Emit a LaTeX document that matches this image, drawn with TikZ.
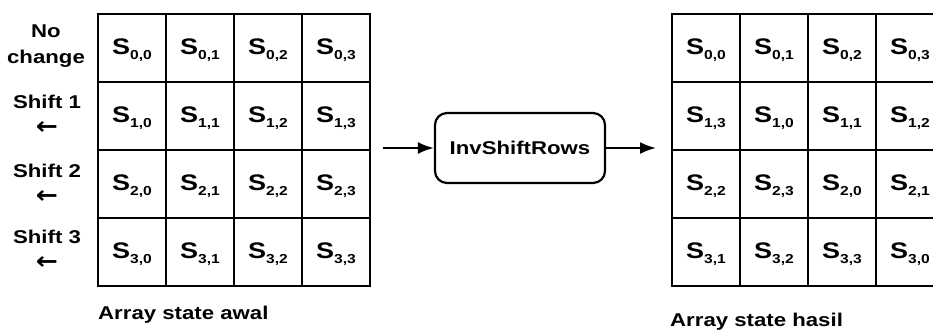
\documentclass[tikz,border=0pt]{standalone}
\usepackage{fontspec}
\setmainfont[FakeStretch=1.2]{Liberation Sans}
\newfontfamily\arrowfont[FakeStretch=1.1]{DejaVu Sans}
\usetikzlibrary{arrows.meta}

% state element S with a two-index subscript
\newcommand{\stateS}[2]{S\raisebox{-5.5pt}{\fontsize{13}{13}\selectfont #1,#2}}
% left-pointing shift arrow
\newcommand{\shiftleft}{{\arrowfont\bfseries\fontsize{24}{24}\selectfont ←}}

\begin{document}
\begin{tikzpicture}[x=1pt,y=-1pt,
  gridline/.style={line width=2.4pt, line cap=rect},
  cell/.style={font=\fontsize{22.5}{22.5}\selectfont\bfseries, inner sep=0pt},
  rowlabel/.style={font=\fontsize{18.5}{26}\selectfont\bfseries, align=center, inner sep=0pt},
  caption/.style={font=\fontsize{18.5}{18.5}\selectfont\bfseries, anchor=base west, inner sep=0pt},
  stepbox/.style={draw, line width=2.2pt, rounded corners=12pt, minimum width=170pt,
                  minimum height=70pt, inner sep=0pt, font=\fontsize{18.5}{18.5}\selectfont\bfseries},
  flow/.style={line width=2.2pt, -{Latex[length=16pt,width=12pt]}}]

\useasboundingbox (0,0) rectangle (933,333);

% ---- input state array ----
\foreach \i in {0,...,4}{
  \draw[gridline] (98+68*\i,14) -- (98+68*\i,286);
  \draw[gridline] (98,14+68*\i) -- (370,14+68*\i);
}
\foreach \r in {0,...,3}{
  \foreach \c in {0,...,3}{
    \node[cell] (in-\r-\c) at (132+68*\c,50+68*\r) {\stateS{\r}{\c}};
  }
}

% ---- output state array (rows shifted right) ----
\foreach \i in {0,...,4}{
  \draw[gridline] (672+68*\i,14) -- (672+68*\i,286);
  \draw[gridline] (672,14+68*\i) -- (944,14+68*\i);
}
\foreach \r in {0,...,3}{
  \foreach \c in {0,...,3}{
    \pgfmathtruncatemacro{\src}{mod(\c-\r+4,4)}
    \node[cell] (out-\r-\c) at (706+68*\c,50+68*\r) {\stateS{\r}{\src}};
  }
}

% ---- row shift labels ----
\node[rowlabel] (lab0) at (46,46)  {No\\change};
\node[rowlabel] (lab1) at (47,115) {Shift 1\\\shiftleft};
\node[rowlabel] (lab2) at (47,184) {Shift 2\\\shiftleft};
\node[rowlabel] (lab3) at (47,250) {Shift 3\\\shiftleft};

% ---- transformation ----
\node[stepbox] (inv) at (520,148) {InvShiftRows};
\coordinate (src) at (383,148);
\coordinate (dst) at (656,148);
\draw[flow] (src) -- (inv.west);
\draw[flow] (inv.east) -- (dst);

% ---- captions ----
\node[caption] (capin)  at (98,319)  {Array state awal};
\node[caption] (capout) at (670,326) {Array state hasil};
\end{tikzpicture}
\end{document}
